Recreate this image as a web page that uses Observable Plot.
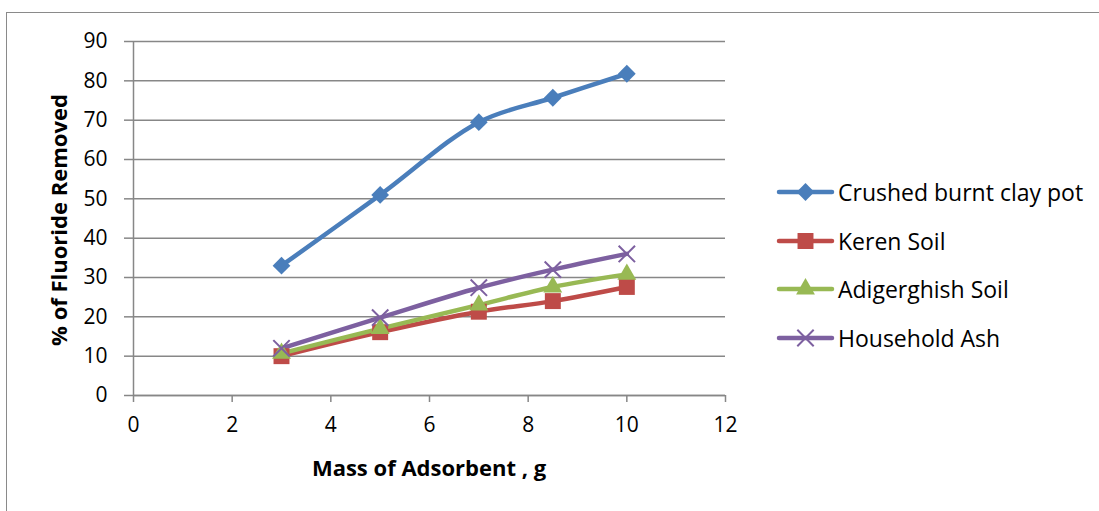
<!DOCTYPE html>
<html>
<head>
<meta charset="utf-8">
<script src="https://cdn.jsdelivr.net/npm/d3@7"></script>
<script src="https://cdn.jsdelivr.net/npm/@observablehq/plot@0.6"></script>
<style>
  html, body { margin:0; padding:0; background:#fff; overflow:hidden; }
  #wrap { position:relative; width:1099px; height:511px; font-family:"Open Sans", sans-serif; }
  #frame { position:absolute; left:6px; top:12px; width:1200px; height:600px; border:1.5px solid #8a8a8a; box-sizing:border-box; }
  #chart { position:absolute; left:0; top:0; }
  .ytitle { position:absolute; left:58px; top:220px; transform:translate(-50%,-50%) rotate(-90deg); font-weight:bold; font-size:22px; white-space:nowrap; color:#000; }
  .xtitle { position:absolute; left:429px; top:467px; transform:translate(-50%,-50%); font-weight:bold; font-size:22px; white-space:nowrap; color:#000; }
  #legend { position:absolute; left:776px; top:168px; }
  .item { height:48.5px; display:flex; align-items:center; font-size:23px; color:#000; white-space:nowrap; line-height:32px; }
  .item svg { margin-right:2px; }
</style>
</head>
<body>
<div id="wrap">
  <div id="frame"></div>
  <div id="chart"></div>
  <div class="ytitle">% of Fluoride Removed</div>
  <div class="xtitle">Mass of Adsorbent , g</div>
  <div id="legend"></div>
</div>
<script>
// ---- data ----
const seriesNames = ["Crushed burnt clay pot", "Keren Soil", "Adigerghish Soil", "Household Ash"];
const mass = [3, 5, 7, 8.5, 10];
const crushedBurntClayPot = [33, 51, 69.5, 75.7, 81.8];
const kerenSoil = [10, 16.1, 21.3, 24, 27.6];
const adigerghishSoil = [10.7, 17, 23, 27.6, 30.8];
const householdAsh = [12, 19.8, 27.4, 32, 36];
const xTicks = [0, 2, 4, 6, 8, 10, 12];
const yTicks = [0, 10, 20, 30, 40, 50, 60, 70, 80, 90];

// ---- styling ----
const values = [crushedBurntClayPot, kerenSoil, adigerghishSoil, householdAsh];
const colors = ["#4a7ebb", "#be4b48", "#98b954", "#7d60a0"];
const symbols = ["diamond2", "square", "triangle", "times"];
const radii = [8, 9, 7, 7.5];

const rows = [];
seriesNames.forEach((s, i) => mass.forEach((m, j) => rows.push({series: s, x: m, y: values[i][j]})));

const grid = "#878787";
const marks = [
  Plot.gridY(yTicks, {stroke: grid, strokeOpacity: 1, strokeWidth: 1.5}),
  Plot.ruleX([0], {stroke: grid, strokeWidth: 1.5}),
  Plot.ruleY([0], {stroke: grid, strokeWidth: 1.5}),
  Plot.axisY(yTicks, {tickSize: 9, tickPadding: 17, stroke: grid, strokeWidth: 1.5, fill: "#000", label: null}),
  Plot.axisX(xTicks, {tickSize: 7, tickPadding: 15, stroke: grid, strokeWidth: 1.5, fill: "#000", label: null})
];
seriesNames.forEach((s, i) => {
  const d = rows.filter(r => r.series === s);
  marks.push(Plot.line(d, {x: "x", y: "y", stroke: colors[i], strokeWidth: 4.5, curve: "catmull-rom"}));
});
seriesNames.forEach((s, i) => {
  const d = rows.filter(r => r.series === s);
  if (symbols[i] === "times") {
    marks.push(Plot.dot(d, {x: "x", y: "y", symbol: () => "times", r: radii[i], stroke: colors[i], strokeWidth: 2, fill: "none"}));
  } else {
    marks.push(Plot.dot(d, {x: "x", y: "y", symbol: () => symbols[i], r: radii[i], fill: colors[i], stroke: "none"}));
  }
});

const chart = Plot.plot({
  width: 1099, height: 511,
  marginLeft: 133, marginRight: 374, marginTop: 41, marginBottom: 116,
  x: {domain: [0, 12], axis: null},
  y: {domain: [0, 90], axis: null},
  symbol: {type: "identity"},
  style: {fontFamily: "'Open Sans', sans-serif", fontSize: "21px", color: "#000", background: "transparent", overflow: "visible"},
  marks
});
document.getElementById("chart").appendChild(chart);

// ---- legend ----
const legend = document.getElementById("legend");
const symMap = {diamond2: d3.symbolDiamond2, square: d3.symbolSquare, triangle: d3.symbolTriangle, times: d3.symbolTimes};
seriesNames.forEach((s, i) => {
  const div = document.createElement("div");
  div.className = "item";
  const size = Math.PI * radii[i] * radii[i];
  const path = d3.symbol(symMap[symbols[i]], size)();
  const isTimes = symbols[i] === "times";
  div.innerHTML = `<svg width="60" height="32"><line x1="3" x2="56" y1="16" y2="16" stroke="${colors[i]}" stroke-width="4.5" stroke-linecap="round"/>` +
    `<path transform="translate(29.5,16)" d="${path}" fill="${isTimes ? "none" : colors[i]}" stroke="${isTimes ? colors[i] : "none"}" stroke-width="2"/></svg><span>${s}</span>`;
  legend.appendChild(div);
});
</script>
</body>
</html>
